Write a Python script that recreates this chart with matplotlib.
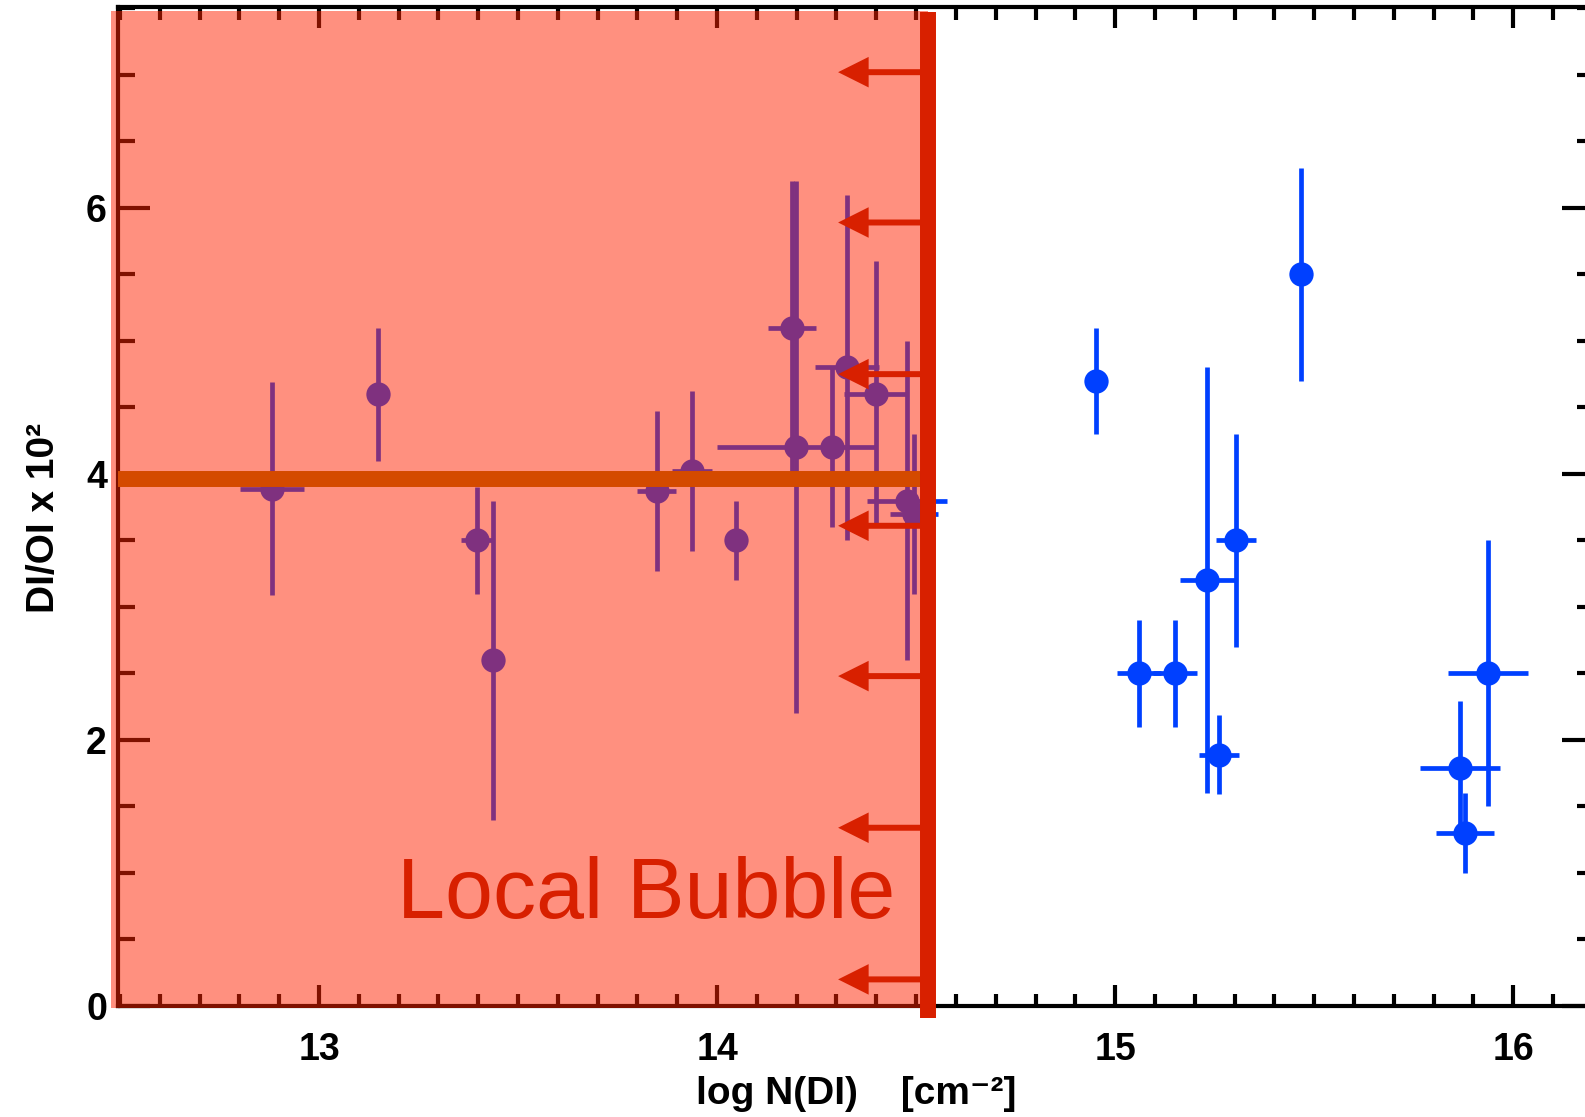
import numpy as np
import matplotlib.pyplot as plt
from matplotlib.patches import ArrowStyle

#column density and D/O ratio of the sight lines (one dataset, the local bubble shade tints the left part)
log_n = [12.882, 13.148, 13.397, 13.437, 13.848, 13.936, 14.048, 14.188, 14.199, 14.288,
         14.327, 14.398, 14.477, 14.494,
         14.952, 15.467, 15.059, 15.151, 15.232, 15.304, 15.261, 15.866, 15.878, 15.937]
log_n_err = [0.08, 0.0, 0.04, 0.0, 0.05, 0.05, 0.0, 0.06, 0.20, 0.0,
             0.08, 0.08, 0.10, 0.06,
             0.0, 0.0, 0.055, 0.055, 0.07, 0.05, 0.05, 0.10, 0.073, 0.10]
do_ratio = [3.89, 4.60, 3.50, 2.60, 3.87, 4.02, 3.50, 5.10, 4.20, 4.20,
            4.80, 4.60, 3.80, 3.70,
            4.70, 5.50, 2.50, 2.50, 3.20, 3.50, 1.89, 1.79, 1.30, 2.50]
do_ratio_err = [0.80, 0.50, 0.40, 1.20, 0.60, 0.60, 0.30, 1.10, 2.00, 0.60,
                1.30, 1.00, 1.20, 0.60,
                0.40, 0.80, 0.40, 0.40, 1.60, 0.80, 0.30, 0.50, 0.30, 1.00]

#local bubble limit, mean ratio inside it and the upper limit arrows
lb_limit = 14.53
lb_mean = 3.96
arrow_tip = 14.304
arrow_y = [0.2, 1.34, 2.48, 3.61, 4.75, 5.89, 7.02]

#colors
point_color = '#0040FF'
shade_color = '#FF2300'
red_color = '#D82000'
mean_color = '#D44A00'

plt.rcParams['font.family'] = ['Liberation Sans', 'DejaVu Sans']
plt.rcParams['font.weight'] = 'bold'
plt.rcParams['axes.labelweight'] = 'bold'

fig = plt.figure(figsize=(15.85, 11.17), dpi=100)
#right frame is cut off by the image edge in the original
ax = fig.add_axes([118 / 1585, 111 / 1117, 1476 / 1585, 999 / 1117])

ax.set_xlim(12.495, 16.203)
ax.set_ylim(0, 7.51)

ax.errorbar(log_n, do_ratio, xerr=log_n_err, yerr=do_ratio_err, fmt='o', ms=17.5,
            color=point_color, mec='none', elinewidth=3.4, capsize=0, zorder=2)

#semi transparent shade of the local bubble
ax.axvspan(12.4774, lb_limit, ymin=-0.002, ymax=0.996, color=shade_color, alpha=0.5,
           lw=0, clip_on=False, zorder=3)

ax.hlines(lb_mean, 12.495, lb_limit, color=mean_color, lw=11.5, zorder=4)
ax.axvline(lb_limit, ymin=-0.012, ymax=0.995, color=red_color, lw=11.5,
           solid_capstyle='butt', clip_on=False, zorder=5)

for y in arrow_y:
    ax.annotate('', xy=(arrow_tip, y), xytext=(lb_limit, y),
                arrowprops=dict(arrowstyle=ArrowStyle.Simple(head_length=22, head_width=22, tail_width=4.3),
                                mutation_scale=1, lw=0, fc=red_color, shrinkA=0, shrinkB=0),
                zorder=6)

ax.text(14.447, 0.66, 'Local Bubble', ha='right', va='baseline', fontsize=62,
        fontweight='normal', color=red_color, zorder=6)

#frame and ticks
for side in ['left', 'right', 'top', 'bottom']:
    ax.spines[side].set_linewidth(3)

ax.set_xticks([13, 14, 15, 16])
ax.set_xticks(np.arange(12.5, 16.25, 0.1), minor=True)
ax.set_yticks([0, 2, 4, 6])
ax.set_yticks(np.arange(0, 7.6, 0.5), minor=True)

ax.tick_params(which='both', direction='in', top=True, right=True, width=3, labelsize=27)
ax.tick_params(axis='x', which='major', length=15, pad=19)
ax.tick_params(axis='x', which='minor', length=9)
ax.tick_params(axis='y', which='major', length=23, pad=8)
ax.tick_params(axis='y', which='minor', length=12)

ax.set_xlabel('log N(DI)    [cm⁻²]', fontsize=28)
ax.set_ylabel('DI/OI x 10²', fontsize=28)
ax.xaxis.set_label_coords(0.5, -0.070)
ax.yaxis.set_label_coords(-0.038, 0.489)

fig.savefig('out.png', dpi=100)
